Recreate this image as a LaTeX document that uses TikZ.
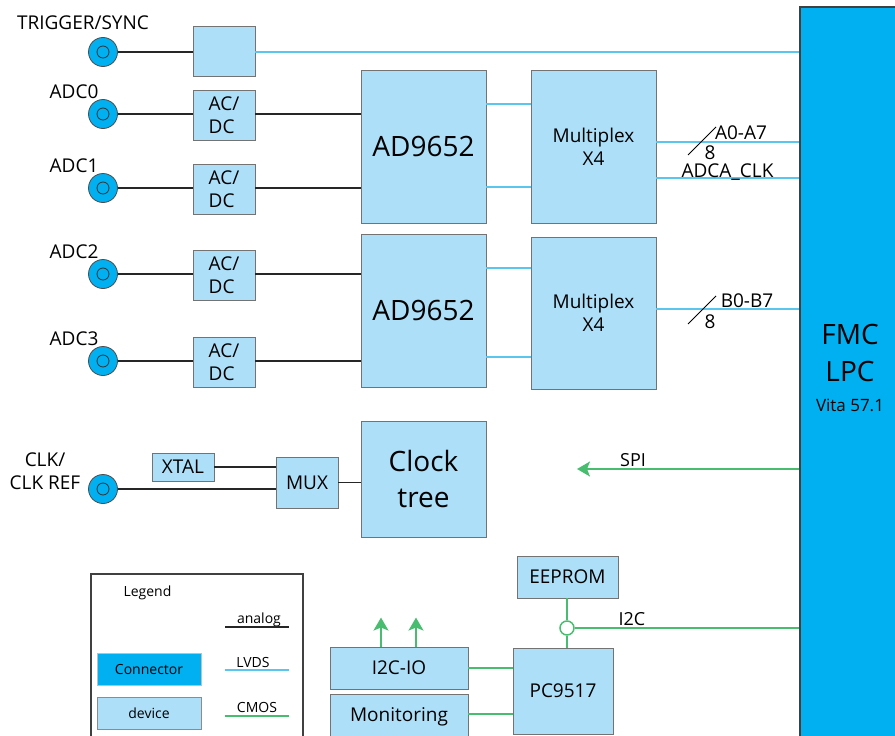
\documentclass[tikz,border=0pt]{standalone}
\usepackage{fontspec}
\setmainfont{Open Sans}
\usetikzlibrary{arrows.meta}

\definecolor{devblue}{RGB}{173,223,248}
\definecolor{conblue}{RGB}{0,176,240}
\definecolor{lvdsblue}{RGB}{90,198,238}
\definecolor{cmosgreen}{RGB}{72,189,112}
\newcommand{\fs}[2]{\fontsize{#1}{#2}\selectfont}

\begin{document}
\begin{tikzpicture}
  [x=1pt,y=-1pt,
   txt/.style={font=\fs{19}{23},inner sep=0pt},
   small/.style={font=\fs{14}{17},inner sep=0pt},
   device/.style={rectangle,fill=devblue,draw=black!55,line width=0.9pt,
     inner sep=0pt,font=\fs{19}{23},align=center},
   big/.style={font=\fs{28}{36}},
   conn/.style={circle,fill=conblue,draw=black!70,line width=0.8pt,
     minimum size=29pt,inner sep=0pt,
     path picture={\draw[black!80,line width=0.8pt]
       (path picture bounding box.center) circle (6pt);}},
   analog/.style={draw=black!85,line width=1.3pt},
   lvds/.style={draw=lvdsblue,line width=2pt},
   cmos/.style={draw=cmosgreen,line width=1.5pt},
   arrowtip/.style={-{Stealth[length=13pt,width=15pt,inset=3pt]}}]

  \useasboundingbox (0,0) rectangle (895,736);
  \clip (0,0) rectangle (895,736);

  % FMC connector
  \node[rectangle,fill=conblue,draw=black!75,line width=1.5pt,
    minimum width=100pt,minimum height=738pt] (fmc) at (850,376) {};
  \node[font=\fs{28}{37},inner sep=0pt,align=center] (fmctext) at (850,353) {FMC\\LPC};
  \node[font=\fs{17}{20},inner sep=0pt,anchor=base] (vita) at (850,411) {Vita 57.1};

  % trigger input
  \node[conn] (ctrig) at (103,52) {};
  \node[txt,anchor=base] (ltrig) at (83,29) {TRIGGER/SYNC};
  \node[device,minimum width=62pt,minimum height=50pt] (trig) at (224,51) {};

  % adc channels
  \foreach \i/\y in {0/114,1/188,2/274,3/361}{
    \node[conn] (cadc\i) at (103,\y) {};
    \node[txt,anchor=base] (ladc\i) at (74,\y-16) {ADC\i};
    \node[device,minimum width=62pt,minimum height=50pt,align=left] (acdc\i) at (224,\y+1) {AC/\\DC};
  }

  \node[device,big,minimum width=125pt,minimum height=153pt] (ad1) at (423.5,146.5) {AD9652};
  \node[device,big,minimum width=125pt,minimum height=153pt] (ad2) at (423.5,310.5) {AD9652};
  \node[device,minimum width=125pt,minimum height=153pt] (mux1) at (593.5,146.5) {Multiplex\\X4};
  \node[device,minimum width=125pt,minimum height=152pt] (mux2) at (593.5,313) {Multiplex\\X4};

  % clock
  \node[conn] (cclk) at (103,489) {};
  \node[txt,align=center] (lclk) at (45,471) {CLK/\\CLK REF};
  \node[device,minimum width=62pt,minimum height=28pt] (xtal) at (183,467) {XTAL};
  \node[device,minimum width=62pt,minimum height=51pt] (muxc) at (307,482.5) {MUX};
  \node[device,big,minimum width=125pt,minimum height=116pt] (clktree) at (423.5,479) {Clock\\tree};

  % management
  \node[device,minimum width=101pt,minimum height=42pt] (eeprom) at (567.5,577) {EEPROM};
  \node[device,minimum width=100pt,minimum height=86pt] (pc) at (563,691) {PC9517};
  \node[device,minimum width=138pt,minimum height=42pt] (i2cio) at (399,668) {I2C-IO};
  \node[device,minimum width=138pt,minimum height=46pt] (mon) at (399,717) {Monitoring};
  \node[circle,draw=cmosgreen,fill=white,line width=1.5pt,minimum size=14pt,inner sep=0pt] (i2cj) at (567,628) {};
  \coordinate (spiend) at (577,469);

  % analog
  \draw[analog] (ctrig) -- (ctrig -| trig.west);
  \foreach \i/\ad in {0/ad1,1/ad1,2/ad2,3/ad2}{
    \draw[analog] (cadc\i) -- (cadc\i -| acdc\i.west);
    \draw[analog] (acdc\i.east |- cadc\i) -- (cadc\i -| \ad.west);
  }
  \draw[analog] (xtal) -- (xtal -| muxc.west);
  \draw[analog] (cclk) -- (cclk -| muxc.west);
  \draw[analog] (muxc) -- (muxc -| clktree.west);

  % lvds
  \draw[lvds] (trig.east |- ctrig) -- (ctrig -| fmc.west);
  \foreach \y in {104,187}
    \draw[lvds] (ad1.east |- 0,\y) -- (mux1.west |- 0,\y);
  \foreach \y in {268,357}
    \draw[lvds] (ad2.east |- 0,\y) -- (mux2.west |- 0,\y);
  \draw[lvds] (mux1.east |- 0,142) -- (fmc.west |- 0,142);
  \draw[lvds] (mux1.east |- 0,178) -- (fmc.west |- 0,178);
  \draw[lvds] (mux2.east |- 0,309) -- (fmc.west |- 0,309);

  % bus widths
  \draw[black,line width=1pt] (688,155) -- (716,127);
  \draw[black,line width=1pt] (688,324) -- (716,296);
  \node[txt,anchor=base] (la0) at (741,139) {A0-A7};
  \node[txt,anchor=base] (lw0) at (710,159) {8};
  \node[txt,anchor=base] (lclka) at (727.5,177) {ADCA\_CLK};
  \node[txt,anchor=base] (lb0) at (747,307) {B0-B7};
  \node[txt,anchor=base] (lw1) at (710,328) {8};

  % cmos
  \draw[cmos,arrowtip] (spiend -| fmc.west) -- (spiend);
  \node[font=\fs{18}{21},inner sep=0pt,anchor=base] (lspi) at (633,466) {SPI};
  \draw[cmos] (eeprom.south -| i2cj) -- (i2cj);
  \draw[cmos] (i2cj) -- (i2cj |- pc.north);
  \draw[cmos] (i2cj) -- (i2cj -| fmc.west);
  \node[font=\fs{18}{21},inner sep=0pt,anchor=base] (li2c) at (632,625) {I2C};
  \draw[cmos] (i2cio) -- (i2cio -| pc.west);
  \draw[cmos] (mon.east |- 0,714) -- (pc.west |- 0,714);
  \foreach \x in {381,416}
    \draw[cmos,arrowtip] (i2cio.north -| \x,0) -- ++(0,-29);

  % legend
  \draw[black!75,line width=1.2pt] (91,574) rectangle (303,760);
  \node[small,anchor=base] (lleg) at (147.5,596) {Legend};
  \node[rectangle,fill=conblue,draw=black!25,line width=0.8pt,small,
    minimum width=104pt,minimum height=32pt] (legcon) at (149,669) {Connector};
  \node[rectangle,fill=devblue,draw=black!45,line width=0.8pt,small,
    minimum width=104pt,minimum height=32pt] (legdev) at (149,713) {device};
  \node[small,anchor=base] (lana) at (259,623) {analog};
  \node[small,anchor=base] (llvds) at (253,667) {LVDS};
  \node[small,anchor=base] (lcmos) at (257,712) {CMOS};
  \draw[analog] (225,627) -- (289,627);
  \draw[lvds,line width=1.3pt] (225,670) -- (289,670);
  \draw[cmos,line width=1.3pt] (225,716) -- (289,716);

\end{tikzpicture}
\end{document}
